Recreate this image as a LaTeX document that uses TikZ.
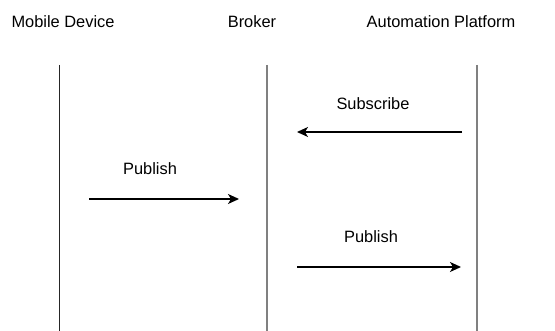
\documentclass[tikz,border=0pt]{standalone}
\usepackage{fontspec}
\setmainfont{Liberation Sans}
\usetikzlibrary{arrows.meta}
\begin{document}
\begin{tikzpicture}[x=1pt,y=-1pt,
  header/.style={font=\fontsize{16.4}{19}\selectfont, inner sep=0pt, anchor=center},
  msglabel/.style={font=\fontsize{16.4}{19}\selectfont, inner sep=0pt, anchor=center},
  lifeline/.style={line width=1.4pt, draw=black!50},
  msg/.style={line width=1.5pt, -{Stealth[length=11pt,width=10pt,inset=3pt]}}
]
\useasboundingbox (0,0) rectangle (555,331);

% participants
\node[header] (md) at (63,22) {Mobile Device};
\node[header] (br) at (252,22) {Broker};
\node[header] (ap) at (441,22) {Automation Platform};

% lifelines
\coordinate (mdtop) at (59,65);  \coordinate (mdbot) at (59,331);
\coordinate (brtop) at (267,65); \coordinate (brbot) at (267,331);
\coordinate (aptop) at (477,65); \coordinate (apbot) at (477,331);
\draw[line width=1pt, draw=black!85] (mdtop) -- (mdbot);
\draw[lifeline] (brtop) -- (brbot);
\draw[lifeline] (aptop) -- (apbot);

% messages
\coordinate (s1a) at (462,132); \coordinate (s1b) at (297,132);
\draw[msg] (s1a) -- (s1b);
\node[msglabel] (l1) at (373,104) {Subscribe};

\coordinate (p1a) at (89,199); \coordinate (p1b) at (239,199);
\draw[msg] (p1a) -- (p1b);
\node[msglabel] (l2) at (150,169) {Publish};

\coordinate (p2a) at (297,267); \coordinate (p2b) at (461,267);
\draw[msg] (p2a) -- (p2b);
\node[msglabel] (l3) at (371,237) {Publish};
\end{tikzpicture}
\end{document}
